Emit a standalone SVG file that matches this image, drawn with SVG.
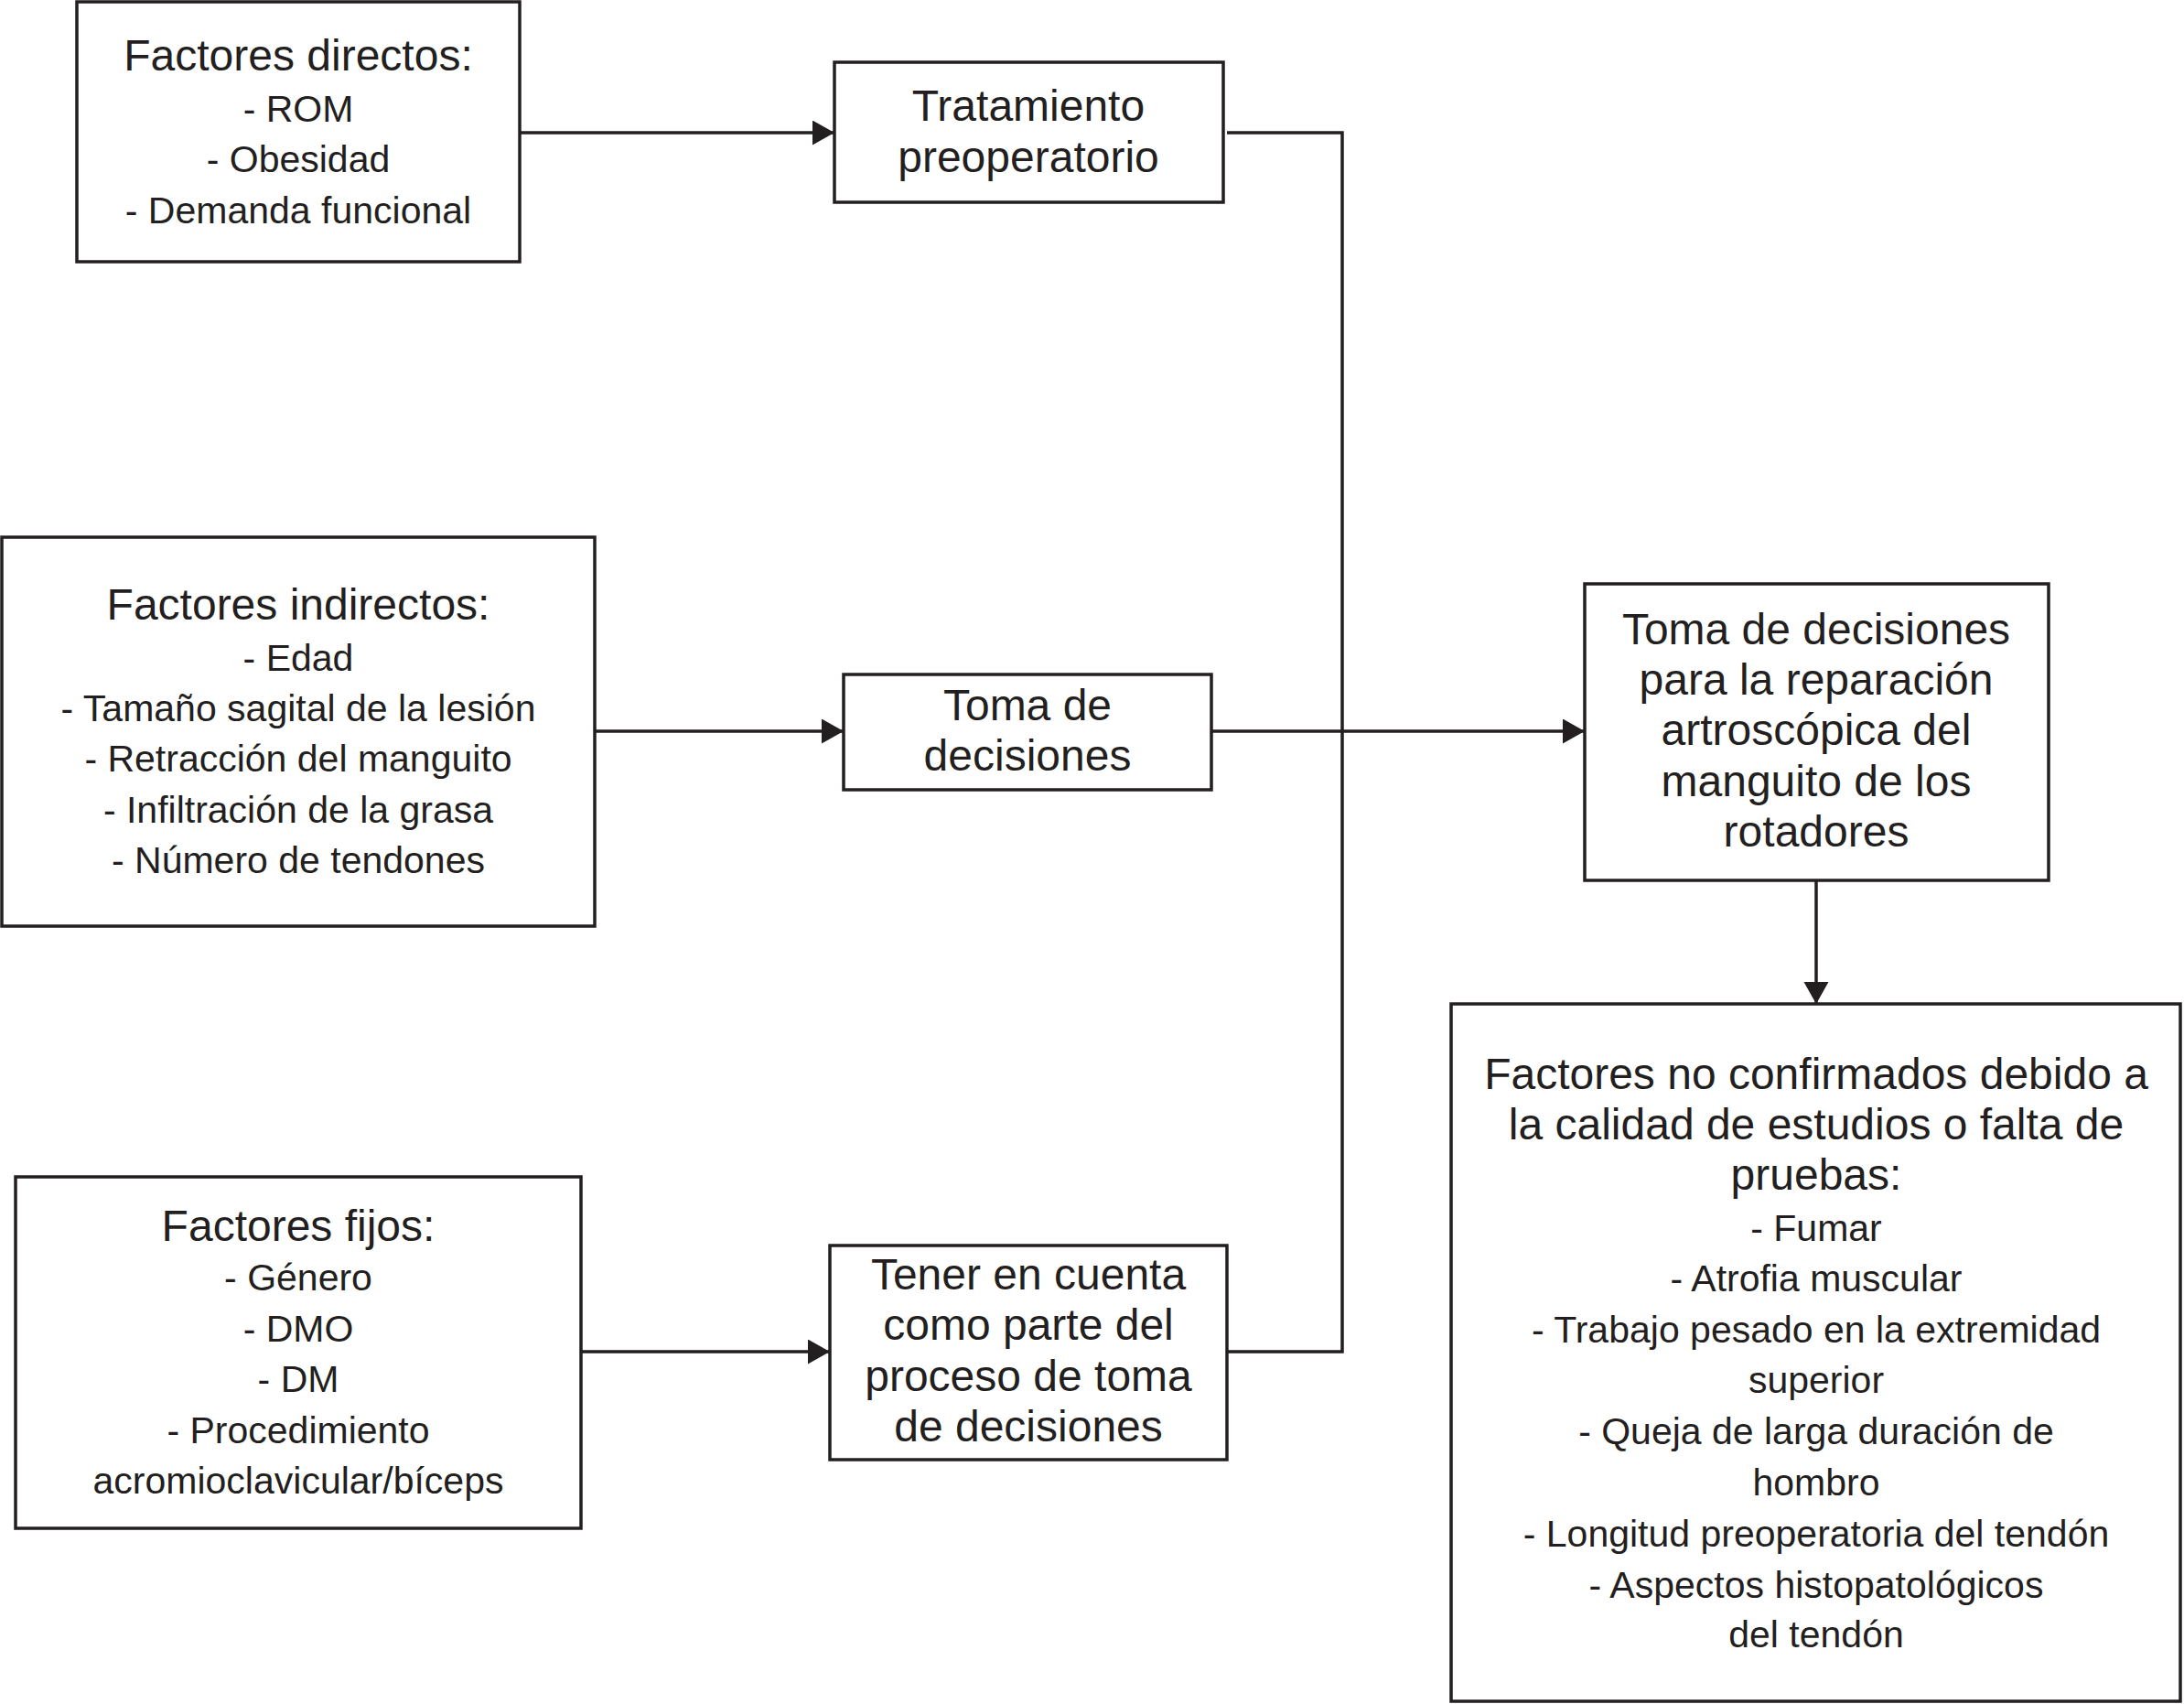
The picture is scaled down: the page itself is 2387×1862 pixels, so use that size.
<svg xmlns="http://www.w3.org/2000/svg" width="2387" height="1862" viewBox="0 0 2387 1862">
<style>
.box{fill:#fff;stroke:#231f20;stroke-width:3.5}
.t{font-family:"Liberation Sans",Arial,sans-serif;fill:#231f20;text-anchor:middle}
.h{font-size:48px}
.i{font-size:41px}
.c{fill:none;stroke:#231f20;stroke-width:3.5}
</style>
<defs>
<marker id="arr" markerUnits="userSpaceOnUse" markerWidth="26" markerHeight="28" refX="24" refY="13.5" orient="auto">
<path d="M0,0 L24,13.5 L0,27 Z" fill="#231f20"/>
</marker>
</defs>
<rect width="2387" height="1862" fill="#fff"/>
<g id="connectors">
<line class="c" x1="568" y1="145" x2="912" y2="145" marker-end="url(#arr)"/>
<line class="c" x1="650" y1="799" x2="922" y2="799" marker-end="url(#arr)"/>
<line class="c" x1="635" y1="1477" x2="907" y2="1477" marker-end="url(#arr)"/>
<polyline class="c" points="1341,145 1467,145 1467,1477 1341,1477"/>
<line class="c" x1="1324" y1="799" x2="1732" y2="799" marker-end="url(#arr)"/>
<line class="c" x1="1985" y1="962" x2="1985" y2="1097" marker-end="url(#arr)"/>
</g>
<g id="directos">
<rect class="box" x="84" y="2" width="484" height="284"/>
<text class="t h" x="326" y="77">Factores directos:</text>
<text class="t i" x="326" y="133">- ROM</text>
<text class="t i" x="326" y="188">- Obesidad</text>
<text class="t i" x="326" y="244">- Demanda funcional</text>
</g>
<g id="tratamiento">
<rect class="box" x="912" y="68" width="425" height="153"/>
<text class="t h" x="1124" y="132">Tratamiento</text>
<text class="t h" x="1124" y="188">preoperatorio</text>
</g>
<g id="indirectos">
<rect class="box" x="2" y="587" width="648" height="425"/>
<text class="t h" x="326" y="677">Factores indirectos:</text>
<text class="t i" x="326" y="733">- Edad</text>
<text class="t i" x="326" y="788">- Tamaño sagital de la lesión</text>
<text class="t i" x="326" y="843">- Retracción del manguito</text>
<text class="t i" x="326" y="899">- Infiltración de la grasa</text>
<text class="t i" x="326" y="954">- Número de tendones</text>
</g>
<g id="toma">
<rect class="box" x="922" y="737" width="402" height="126"/>
<text class="t h" x="1123" y="787">Toma de</text>
<text class="t h" x="1123" y="842">decisiones</text>
</g>
<g id="fijos">
<rect class="box" x="17" y="1286" width="618" height="384"/>
<text class="t h" x="326" y="1356">Factores fijos:</text>
<text class="t i" x="326" y="1410">- Género</text>
<text class="t i" x="326" y="1466">- DMO</text>
<text class="t i" x="326" y="1521">- DM</text>
<text class="t i" x="326" y="1577">- Procedimiento</text>
<text class="t i" x="326" y="1632">acromioclavicular/bíceps</text>
</g>
<g id="tener">
<rect class="box" x="907" y="1361" width="434" height="234"/>
<text class="t h" x="1124" y="1409">Tener en cuenta</text>
<text class="t h" x="1124" y="1464">como parte del</text>
<text class="t h" x="1124" y="1520">proceso de toma</text>
<text class="t h" x="1124" y="1575">de decisiones</text>
</g>
<g id="reparacion">
<rect class="box" x="1732" y="638" width="507" height="324"/>
<text class="t h" x="1985" y="704">Toma de decisiones</text>
<text class="t h" x="1985" y="759">para la reparación</text>
<text class="t h" x="1985" y="814">artroscópica del</text>
<text class="t h" x="1985" y="870">manguito de los</text>
<text class="t h" x="1985" y="925">rotadores</text>
</g>
<g id="noconfirmados">
<rect class="box" x="1586" y="1097" width="797" height="762"/>
<text class="t h" x="1985" y="1190">Factores no confirmados debido a</text>
<text class="t h" x="1985" y="1245">la calidad de estudios o falta de</text>
<text class="t h" x="1985" y="1300">pruebas:</text>
<text class="t i" x="1985" y="1356">- Fumar</text>
<text class="t i" x="1985" y="1411">- Atrofia muscular</text>
<text class="t i" x="1985" y="1467">- Trabajo pesado en la extremidad</text>
<text class="t i" x="1985" y="1522">superior</text>
<text class="t i" x="1985" y="1578">- Queja de larga duración de</text>
<text class="t i" x="1985" y="1634">hombro</text>
<text class="t i" x="1985" y="1690">- Longitud preoperatoria del tendón</text>
<text class="t i" x="1985" y="1746">- Aspectos histopatológicos</text>
<text class="t i" x="1985" y="1800">del tendón</text>
</g>
</svg>
